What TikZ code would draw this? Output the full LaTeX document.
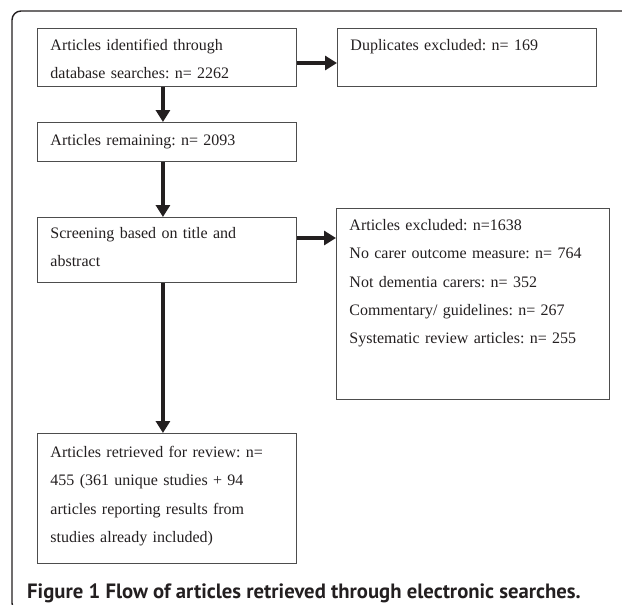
\documentclass[tikz,border=0pt]{standalone}
\usepackage{fontspec}
\setmainfont{Liberation Serif}
\newfontfamily\capfont{PT Sans}
\usepackage{xcolor}
\usetikzlibrary{arrows.meta,calc}
\definecolor{inkdark}{HTML}{231F20}
\definecolor{boxgray}{HTML}{4D4D4D}
\frenchspacing
\tikzset{
	flowbox/.style 2 args={
			draw=boxgray, line width=0.9pt, anchor=north west, align=left,
			inner xsep=13pt, inner ysep=0pt, text width=233pt,
			text height=#1, text depth=#2, text=inkdark,
			font=\fontsize{16}{28.3}\selectfont
		},
	flowarrow/.style={
			-{Triangle[length=12pt,width=14pt]}, line width=4pt, draw=inkdark
		}
}

\begin{document}
\begin{tikzpicture}[x=1pt, y=-1pt]
	\useasboundingbox (0,0) rectangle (622,605);
	\draw[line width=1.4pt, draw=inkdark, rounded corners=9pt] (622,11) -- (12,11) -- (12,612) -- (40,612);

	\node[flowbox={22pt}{36pt}] (found) at (37,28) {Articles identified through\\database searches: n= 2262};
	\node[flowbox={22pt}{36pt}] (dupes) at (337,28) {Duplicates excluded: n= 169};
	\node[flowbox={23pt}{16pt}] (remain) at (37,122) {Articles remaining: n= 2093};
	\node[flowbox={21pt}{44pt}] (screen) at (37,217) {Screening based on title and\\abstract};
	\node[flowbox={22pt}{169pt}, text width=247pt] (excl) at (336,208) {Articles excluded: n=1638\\No carer outcome measure: n= 764\\Not dementia carers: n= 352\\Commentary/ guidelines: n= 267\\Systematic review articles: n= 255};
	\node[flowbox={24pt}{106pt}] (review) at (37,433) {Articles retrieved for review: n=\\455 (361 unique studies + 94\\articles reporting results from\\studies already included)};
	\node[anchor=base west, inner sep=0pt, text=inkdark, font=\capfont\bfseries\fontsize{20.7}{22}\selectfont] (caption) at (27,598) {Figure 1 Flow of articles retrieved through electronic searches.};

	\draw[flowarrow] ([xshift=-4pt]found.south) -- ([xshift=-4pt]remain.north);
	\draw[flowarrow] ([xshift=-4pt]remain.south) -- ([xshift=-4pt]screen.north);
	\draw[flowarrow] ([xshift=-4pt]screen.south) -- ([xshift=-4pt]review.north);
	\draw[flowarrow] ([yshift=-35pt]found.north east) -- ([yshift=-35pt]dupes.north west);
	\coordinate (screenout) at ([yshift=-21pt]screen.north east);
	\draw[flowarrow] (screenout) -- (screenout -| excl.west);
\end{tikzpicture}
\end{document}
